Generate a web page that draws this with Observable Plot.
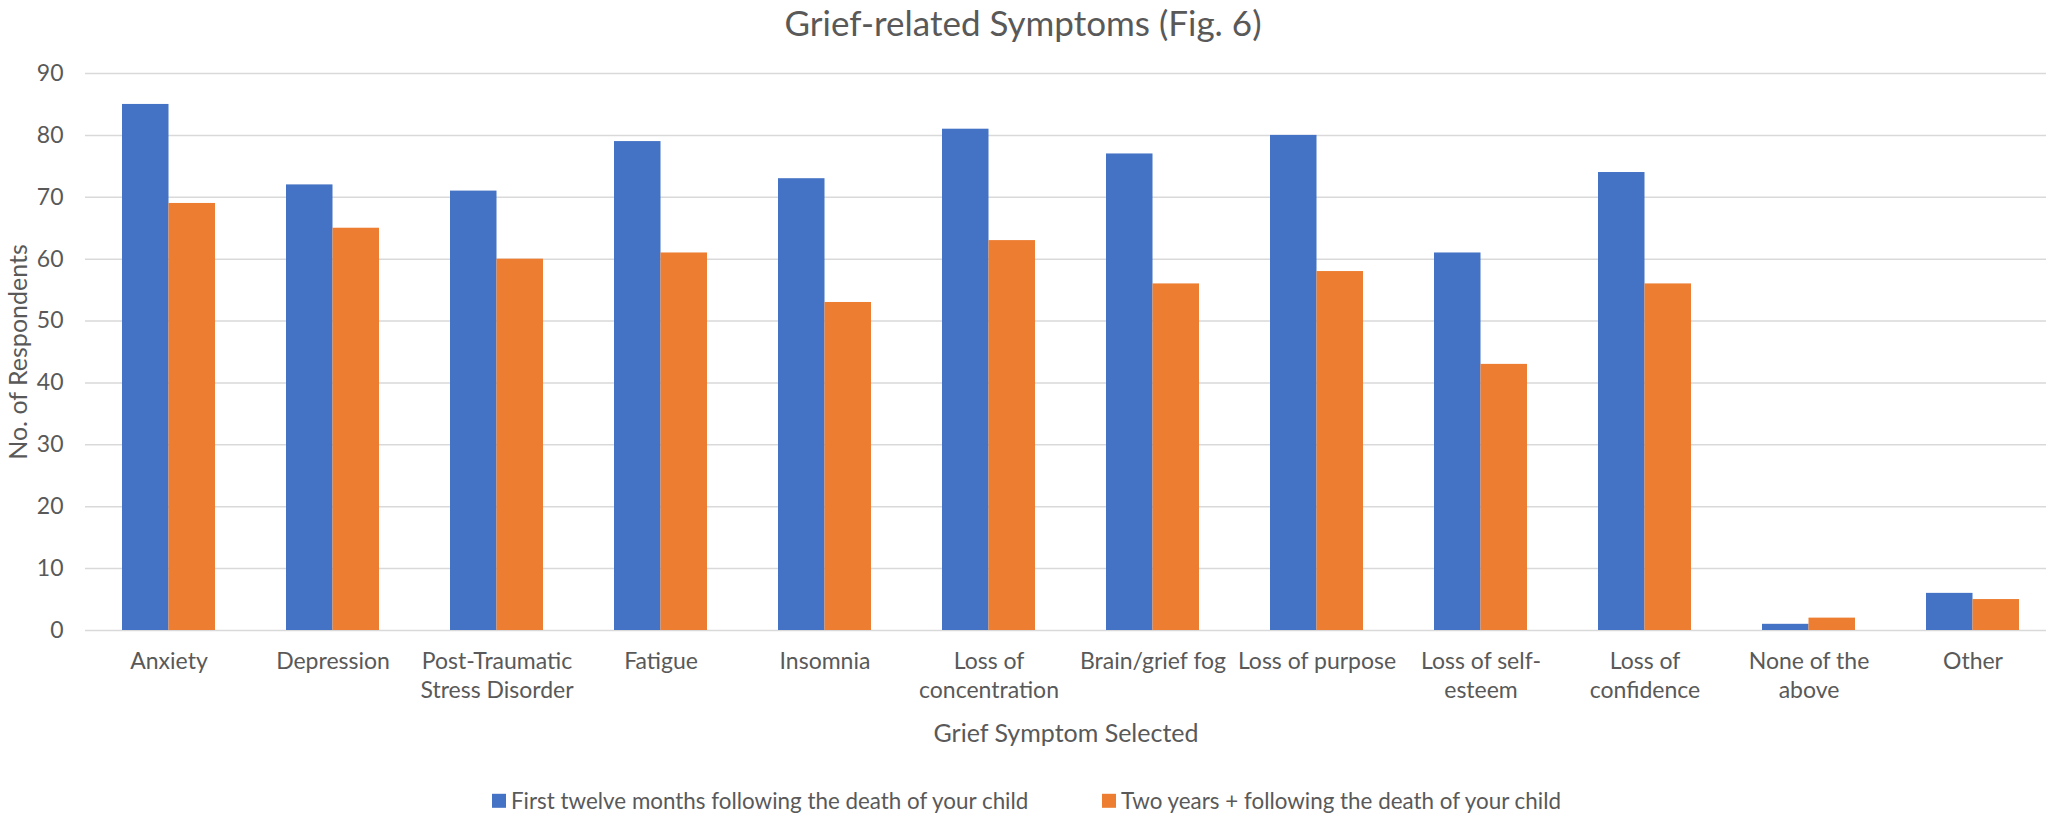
<!DOCTYPE html>
<html><head><meta charset="utf-8">
<script src="https://cdn.jsdelivr.net/npm/d3@7"></script>
<script src="https://cdn.jsdelivr.net/npm/@observablehq/plot@0.6"></script>
<style>
body{margin:0;background:#fff;font-family:Lato,"Open Sans",sans-serif;color:#595959;}
#wrap{position:relative;width:2046px;height:815px;overflow:hidden;background:#fff;}
#chart{position:absolute;left:0;top:0;}
.t{position:absolute;white-space:nowrap;line-height:1;transform:translate(-50%,-50%);}
#title{left:1023px;top:22px;font-size:35px;}
#xlabel{left:1066px;top:732px;font-size:25px;}
#ylabel{left:17px;top:352px;font-size:25px;transform:translate(-50%,-50%) rotate(-90deg);}
.leg{position:absolute;top:801px;transform:translateY(-50%);display:flex;align-items:center;font-size:22.4px;white-space:nowrap;line-height:1;}
.sw{width:14px;height:14px;margin-right:5px;display:inline-block;}
</style></head><body>
<div id="wrap">
<div id="chart"></div>
<div class="t" id="title">Grief-related Symptoms (Fig. 6)</div>
<div class="t" id="xlabel">Grief Symptom Selected</div>
<div class="t" id="ylabel">No. of Respondents</div>
</div>
<script>
const categories = ["Anxiety","Depression","Post-Traumatic Stress Disorder","Fatigue","Insomnia","Loss of concentration","Brain/grief fog","Loss of purpose","Loss of self-esteem","Loss of confidence","None of the above","Other"];
const categoryLabels = ["Anxiety","Depression","Post-Traumatic\nStress Disorder","Fatigue","Insomnia","Loss of\nconcentration","Brain/grief fog","Loss of purpose","Loss of self-\nesteem","Loss of\nconfidence","None of the\nabove","Other"];
const seriesNames = ["First twelve months following the death of your child","Two years + following the death of your child"];
const firstTwelveMonths = [85,72,71,79,73,81,77,80,61,74,1,6];
const twoYearsPlus = [69,65,60,61,53,63,56,58,43,56,2,5];
const yTicks = [0,10,20,30,40,50,60,70,80,90];
const seriesColors = ["#4472C4","#ED7D31"];

const labelMap = new Map(categories.map((c,i)=>[c, categoryLabels[i]]));
const rowsFirst = categories.map((c,i)=>({symptom:c, series:seriesNames[0], value:firstTwelveMonths[i]}));
const rowsSecond = categories.map((c,i)=>({symptom:c, series:seriesNames[1], value:twoYearsPlus[i]}));

const plot = Plot.plot({
  width: 2046, height: 815,
  marginTop: 73, marginBottom: 185, marginLeft: 85, marginRight: -9,
  style: {fontFamily: "Lato, 'Open Sans', sans-serif", fontSize: "23px", color: "#595959", background: "transparent"},
  x: {domain: categories, paddingInner: 0.433, paddingOuter: 0.2165, label: null},
  y: {domain: [0, 90], label: null},
  color: {domain: seriesNames, range: seriesColors},
  marks: [
    Plot.gridY(yTicks, {stroke: "#d9d9d9", strokeOpacity: 1, strokeWidth: 1.5}),
    Plot.barY(rowsFirst, {x: "symptom", y: "value", fill: "series", insetRight: 46.5}),
    Plot.barY(rowsSecond, {x: "symptom", y: "value", fill: "series", insetLeft: 46.5}),
    Plot.axisY(yTicks, {tickSize: 0, tickPadding: 22, fontSize: 23, fill: "#595959", label: null}),
    Plot.axisX({tickSize: 0, tickPadding: 18, fontSize: 23, fill: "#595959", lineHeight: 1.25, tickFormat: d => labelMap.get(d), label: null})
  ]
});
document.getElementById("chart").appendChild(plot);

const wrap = document.getElementById("wrap");
const legLefts = [492, 1102];
seriesNames.forEach((s,i)=>{
  const d = document.createElement("div");
  d.className = "leg";
  d.style.left = legLefts[i] + "px";
  const sw = document.createElement("span");
  sw.className = "sw";
  sw.style.background = plot.scale("color").apply(s);
  d.appendChild(sw);
  d.appendChild(document.createTextNode(s));
  wrap.appendChild(d);
});
</script>
</body></html>
